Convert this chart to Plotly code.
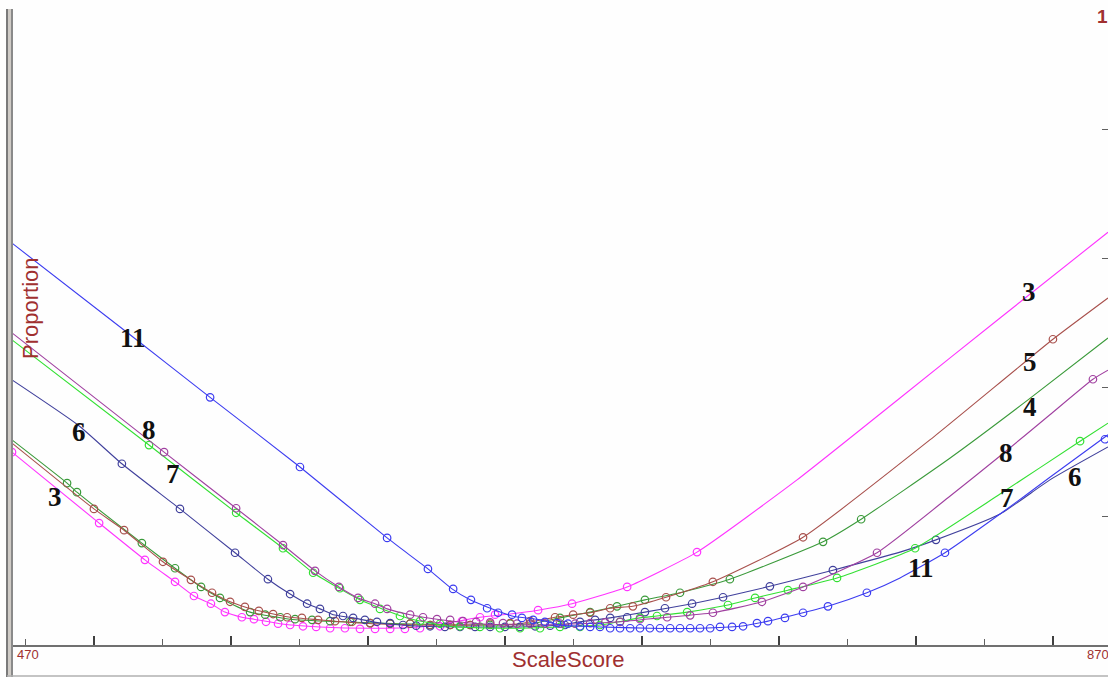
import plotly.graph_objects as go

# ---------------- data (ScaleScore vs Proportion) ----------------
grades = ["3", "4", "5", "6", "7", "8", "11"]
colors = {"3": "#ff33ff", "4": "#3a9a3a", "5": "#a8504c", "6": "#40409c",
          "7": "#33e033", "8": "#a040a0", "11": "#3c3cf0"}

# fitted curves
g3_x = [470, 501.8, 518.5, 529.5, 536.4, 542.6, 547.7, 553.9, 558.3, 567.8, 582.4, 600.7, 618.9, 631.7, 640.8, 651.8, 662.0, 674.4, 694.5, 720.0, 756.5, 794.1, 830.6, 870]
g3_y = [0.299, 0.189, 0.132, 0.098, 0.076, 0.064, 0.051, 0.043, 0.040, 0.033, 0.028, 0.026, 0.028, 0.036, 0.043, 0.048, 0.054, 0.064, 0.090, 0.144, 0.256, 0.383, 0.507, 0.640]

g4_x = [470, 490.1, 493.7, 517.4, 529.5, 539.0, 545.9, 556.9, 571.5, 589.7, 611.6, 637.2, 659.1, 670.0, 681.0, 690.8, 701.0, 713.8, 732.0, 766.0, 779.9, 812.4, 840.8, 870]
g4_y = [0.318, 0.251, 0.237, 0.158, 0.119, 0.090, 0.073, 0.051, 0.040, 0.036, 0.033, 0.031, 0.033, 0.042, 0.051, 0.060, 0.070, 0.081, 0.102, 0.160, 0.195, 0.290, 0.380, 0.476]

g5_x = [470, 499.9, 510.9, 525.1, 535.3, 543.0, 549.6, 555.0, 560.1, 571.5, 582.4, 597.0, 618.9, 640.8, 655.4, 668.2, 674.8, 681.0, 688.3, 696.6, 708.7, 725.8, 758.7, 806.2, 849.9, 870]
g5_y = [0.313, 0.211, 0.178, 0.129, 0.101, 0.081, 0.067, 0.059, 0.053, 0.043, 0.039, 0.034, 0.031, 0.031, 0.033, 0.043, 0.047, 0.050, 0.057, 0.060, 0.074, 0.098, 0.167, 0.322, 0.474, 0.538]

g6_x = [470, 494.1, 510.1, 531.3, 551.4, 563.4, 571.5, 577.7, 582.4, 587.2, 594.5, 604.3, 618.9, 637.2, 655.4, 670.0, 677.3, 688.3, 701.0, 718.2, 729.5, 746.6, 769.6, 794.1, 807.2, 830.6, 848.8, 870]
g6_y = [0.411, 0.341, 0.281, 0.211, 0.143, 0.102, 0.079, 0.064, 0.056, 0.047, 0.042, 0.034, 0.029, 0.028, 0.028, 0.031, 0.036, 0.042, 0.051, 0.064, 0.074, 0.091, 0.116, 0.144, 0.163, 0.203, 0.256, 0.307]

g7_x = [470, 520.0, 551.8, 568.9, 579.9, 597.0, 614.2, 629.9, 648.1, 670.0, 684.6, 699.2, 705.4, 716.4, 731.3, 741.2, 753.2, 771.1, 799.6, 830.6, 859.8, 870]
g7_y = [0.473, 0.310, 0.205, 0.150, 0.112, 0.070, 0.042, 0.029, 0.026, 0.028, 0.031, 0.042, 0.045, 0.051, 0.062, 0.073, 0.085, 0.104, 0.150, 0.234, 0.316, 0.344]

g8_x = [470, 525.5, 551.8, 568.9, 580.6, 589.3, 596.3, 602.5, 606.9, 615.3, 625.1, 640.8, 659.1, 677.3, 691.9, 706.5, 725.8, 743.7, 758.7, 785.7, 812.4, 830.6, 848.8, 864.5, 870]
g8_y = [0.484, 0.299, 0.212, 0.155, 0.115, 0.090, 0.073, 0.064, 0.056, 0.047, 0.040, 0.033, 0.031, 0.033, 0.036, 0.042, 0.050, 0.067, 0.090, 0.143, 0.231, 0.293, 0.357, 0.412, 0.426]

g11_x = [470, 513.1, 542.3, 575.1, 606.9, 621.8, 630.6, 637.2, 643.4, 652.5, 662.7, 670.0, 684.6, 702.8, 721.1, 735.7, 745.9, 758.7, 767.8, 782.0, 794.1, 810.5, 830.6, 848.8, 870]
g11_y = [0.623, 0.481, 0.384, 0.276, 0.166, 0.118, 0.087, 0.070, 0.059, 0.045, 0.039, 0.031, 0.028, 0.026, 0.026, 0.029, 0.037, 0.050, 0.060, 0.081, 0.104, 0.143, 0.203, 0.260, 0.326]

# observed proportions
o3_x = [470, 501.8, 518.5, 529.5, 536.4, 542.6, 547.7, 553.9, 558.3, 562.7, 567.1, 571.5, 576.2, 581.0, 586.1, 591.5, 597.0, 602.5, 608.0, 613.4, 618.9, 626.2, 634.2, 640.8, 646.3, 662.0, 674.4, 694.5, 720.0]
o3_y = [0.299, 0.189, 0.132, 0.098, 0.076, 0.064, 0.051, 0.043, 0.040, 0.036, 0.033, 0.031, 0.029, 0.028, 0.026, 0.026, 0.025, 0.025, 0.025, 0.025, 0.026, 0.029, 0.037, 0.043, 0.047, 0.054, 0.064, 0.090, 0.144]

o4_x = [490.1, 493.7, 517.4, 529.5, 539.0, 545.9, 556.9, 562.4, 567.9, 573.3, 579.5, 586.1, 593.4, 600.7, 608.0, 615.3, 622.6, 629.9, 637.2, 644.5, 651.8, 659.1, 670.0, 681.0, 690.8, 701.0, 713.8, 732.0, 766.0, 779.9]
o4_y = [0.251, 0.237, 0.158, 0.119, 0.090, 0.073, 0.051, 0.047, 0.043, 0.040, 0.039, 0.037, 0.036, 0.034, 0.033, 0.033, 0.031, 0.031, 0.031, 0.031, 0.033, 0.033, 0.042, 0.051, 0.060, 0.070, 0.081, 0.102, 0.160, 0.195]

o5_x = [499.9, 510.9, 525.1, 535.3, 543.0, 549.6, 555.0, 560.1, 565.3, 570.4, 575.8, 581.7, 587.9, 594.1, 600.7, 608.0, 615.3, 622.6, 629.9, 637.2, 644.5, 651.8, 659.1, 668.2, 674.8, 681.0, 688.3, 696.6, 708.7, 725.8, 758.7, 849.9]
o5_y = [0.211, 0.178, 0.129, 0.101, 0.081, 0.067, 0.059, 0.053, 0.048, 0.043, 0.042, 0.039, 0.037, 0.036, 0.034, 0.033, 0.033, 0.031, 0.031, 0.031, 0.033, 0.034, 0.037, 0.043, 0.047, 0.050, 0.057, 0.060, 0.074, 0.098, 0.167, 0.474]

o6_x = [510.1, 531.3, 551.4, 563.4, 571.5, 577.7, 582.4, 587.2, 590.8, 594.5, 598.8, 603.2, 608.0, 612.7, 617.5, 622.6, 628.0, 633.5, 639.0, 644.5, 649.9, 655.4, 660.9, 666.4, 671.8, 677.3, 682.8, 688.3, 694.5, 701.0, 708.3, 718.2, 729.5, 746.6, 769.6, 807.2]
o6_y = [0.281, 0.211, 0.143, 0.102, 0.079, 0.064, 0.056, 0.047, 0.045, 0.042, 0.039, 0.036, 0.034, 0.031, 0.030, 0.029, 0.028, 0.028, 0.028, 0.028, 0.028, 0.028, 0.029, 0.030, 0.031, 0.036, 0.039, 0.042, 0.043, 0.051, 0.057, 0.064, 0.074, 0.091, 0.116, 0.163]

o7_x = [520.0, 551.8, 568.9, 579.9, 589.7, 597.0, 604.3, 611.6, 618.9, 626.2, 633.5, 640.8, 648.1, 655.4, 662.7, 670.0, 677.3, 684.6, 691.9, 699.2, 705.4, 716.4, 731.3, 741.2, 753.2, 771.1, 799.6, 859.8]
o7_y = [0.310, 0.205, 0.150, 0.112, 0.088, 0.070, 0.056, 0.045, 0.037, 0.033, 0.029, 0.028, 0.026, 0.026, 0.026, 0.028, 0.028, 0.031, 0.036, 0.042, 0.045, 0.051, 0.062, 0.073, 0.085, 0.104, 0.150, 0.316]

o8_x = [525.5, 551.8, 568.9, 580.6, 589.3, 596.3, 602.5, 606.9, 615.3, 620.0, 625.1, 629.9, 634.6, 639.4, 644.5, 649.2, 654.3, 659.1, 664.5, 670.0, 675.5, 681.0, 686.5, 691.9, 699.2, 709.1, 717.5, 725.8, 743.7, 758.7, 785.7, 864.5]
o8_y = [0.299, 0.212, 0.155, 0.115, 0.090, 0.073, 0.064, 0.056, 0.047, 0.043, 0.040, 0.039, 0.037, 0.036, 0.035, 0.034, 0.033, 0.033, 0.033, 0.033, 0.033, 0.034, 0.035, 0.036, 0.040, 0.043, 0.046, 0.050, 0.067, 0.090, 0.143, 0.412]

o11_x = [542.3, 575.1, 606.9, 621.8, 631.0, 637.5, 643.4, 647.4, 652.5, 656.1, 660.2, 664.5, 668.9, 672.9, 677.3, 681.0, 684.6, 688.3, 691.9, 695.6, 699.2, 702.8, 706.5, 710.2, 713.8, 717.5, 721.1, 724.8, 728.4, 732.8, 736.8, 741.9, 745.9, 752.1, 758.7, 767.8, 782.0, 810.5, 868.9]
o11_y = [0.384, 0.276, 0.166, 0.118, 0.087, 0.070, 0.057, 0.050, 0.047, 0.042, 0.039, 0.036, 0.034, 0.033, 0.029, 0.028, 0.028, 0.026, 0.026, 0.026, 0.026, 0.026, 0.026, 0.026, 0.026, 0.026, 0.026, 0.026, 0.028, 0.028, 0.029, 0.034, 0.037, 0.042, 0.050, 0.060, 0.081, 0.143, 0.319]

curves = {"3": (g3_x, g3_y, o3_x, o3_y), "4": (g4_x, g4_y, o4_x, o4_y),
          "5": (g5_x, g5_y, o5_x, o5_y), "6": (g6_x, g6_y, o6_x, o6_y),
          "7": (g7_x, g7_y, o7_x, o7_y), "8": (g8_x, g8_y, o8_x, o8_y),
          "11": (g11_x, g11_y, o11_x, o11_y)}

# curve label positions (score, proportion)
label_text = ["11", "6", "8", "7", "3", "3", "5", "4", "8", "7", "6", "11"]
label_x = [514.2, 494.5, 520.0, 528.8, 485.7, 841.2, 841.6, 841.6, 832.8, 833.1, 858.0, 801.7]
label_y = [0.476, 0.330, 0.333, 0.265, 0.229, 0.547, 0.439, 0.369, 0.298, 0.228, 0.260, 0.119]

x_ticks_major = list(range(500, 851, 50))
y_ticks = [0.2, 0.4, 0.6, 0.8]

# ---------------- figure ----------------
W, H = 1108, 677
L, R, T, B = 12, 0, 0, 32
pw, ph = W - L - R, H - T - B

def px(x):
    return (x - L) / pw

def py(y):
    return (H - B - y) / ph

fig = go.Figure()
for g in grades:
    cx, cy, ox, oy = curves[g]
    c = colors[g]
    fig.add_trace(go.Scatter(x=cx, y=cy, mode="lines", line=dict(color=c, width=1.1, shape="spline", smoothing=0.5),
                             hoverinfo="skip", showlegend=False))
    fig.add_trace(go.Scatter(x=ox, y=oy, mode="markers",
                             marker=dict(symbol="circle-open", size=7.5, color=c, line=dict(width=1.2, color=c)),
                             showlegend=False))

dark_red = "#a03030"
ann = []
for t, x, y in zip(label_text, label_x, label_y):
    ann.append(dict(x=x, y=y, xref="x", yref="y", text="<b>" + t + "</b>", showarrow=False,
                    xanchor="center", yanchor="middle",
                    font=dict(family="Liberation Serif, Times New Roman, serif", size=27, color="#111111")))

ann += [
    dict(x=px(568), y=py(659), xref="paper", yref="paper", text="ScaleScore", showarrow=False,
         xanchor="center", yanchor="middle", font=dict(family="Liberation Sans, Arial", size=22, color=dark_red)),
    dict(x=px(30), y=py(308), xref="paper", yref="paper", text="Proportion", showarrow=False, textangle=-90,
         xanchor="center", yanchor="middle", font=dict(family="Liberation Sans, Arial", size=22, color=dark_red)),
    dict(x=px(15), y=py(654), xref="paper", yref="paper", text="470", showarrow=False,
         xanchor="left", yanchor="middle", font=dict(family="Liberation Sans, Arial", size=13, color=dark_red)),
    dict(x=px(1111), y=py(654), xref="paper", yref="paper", text="870", showarrow=False,
         xanchor="right", yanchor="middle", font=dict(family="Liberation Sans, Arial", size=13, color=dark_red)),
    dict(x=px(1110), y=py(16), xref="paper", yref="paper", text="<b>1</b>", showarrow=False,
         xanchor="right", yanchor="middle", font=dict(family="Liberation Sans, Arial", size=19, color=dark_red)),
]

shapes = [
    dict(type="line", xref="paper", yref="paper", x0=px(7), x1=px(7), y0=py(9), y1=py(677),
         line=dict(color="#7a7a7a", width=2)),
    dict(type="line", xref="paper", yref="paper", x0=px(9.5), x1=px(9.5), y0=py(9), y1=py(677),
         line=dict(color="#cfcbc6", width=3)),
    dict(type="line", xref="paper", yref="paper", x0=px(12), x1=px(12), y0=py(9), y1=py(677),
         line=dict(color="#8a8a8a", width=2)),
    dict(type="line", xref="paper", yref="paper", x0=px(7), x1=px(1108), y0=py(676), y1=py(676),
         line=dict(color="#b0b0b0", width=1.5)),
]

fig.update_layout(
    width=W, height=H, autosize=False,
    margin=dict(l=L, r=R, t=T, b=B, pad=0),
    paper_bgcolor="#fefefe", plot_bgcolor="#fefefe",
    showlegend=False,
    annotations=ann, shapes=shapes,
    xaxis=dict(range=[470, 870], showgrid=False, zeroline=False, showline=True, linecolor="#707070", linewidth=1.5,
               ticks="inside", tickvals=x_ticks_major, ticklen=9, tickwidth=1.5, tickcolor="#404040",
               showticklabels=False,
               minor=dict(ticks="inside", tick0=475, dtick=50, ticklen=6, tickwidth=1, tickcolor="#606060")),
    yaxis=dict(range=[0, 1], side="right", showgrid=False, zeroline=False, showline=False,
               ticks="inside", tickvals=y_ticks, ticklen=6, tickwidth=1, tickcolor="#606060",
               showticklabels=False),
)

fig.write_html("out.html")
